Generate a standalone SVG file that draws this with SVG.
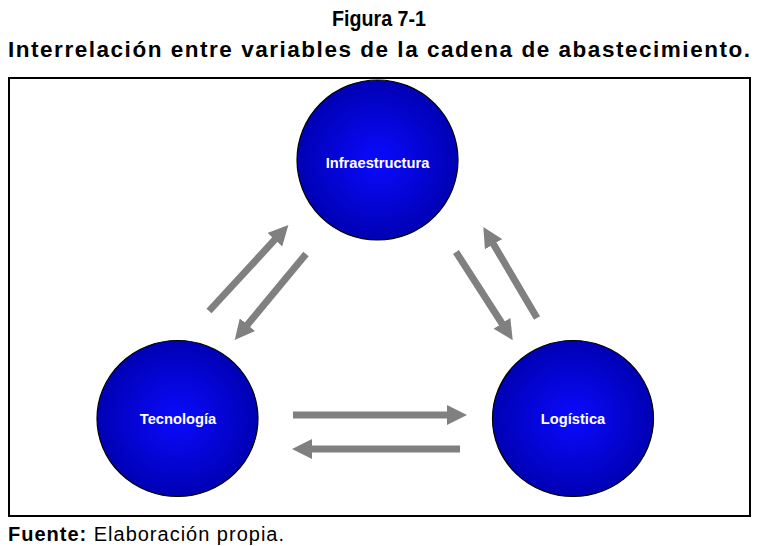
<svg xmlns="http://www.w3.org/2000/svg" width="757" height="546" viewBox="0 0 757 546">
<defs>
<radialGradient id="blue" cx="50%" cy="50%" r="50%">
<stop offset="0" stop-color="#0a0aff"/>
<stop offset="1" stop-color="#0000b4"/>
</radialGradient>
<marker id="ah" markerUnits="userSpaceOnUse" markerWidth="20" markerHeight="20" refX="2" refY="10" orient="auto">
<path d="M0,0 L20,10 L0,20 z" fill="#808080"/>
</marker>
<style>
.t{font-family:"Liberation Sans",Arial,sans-serif;fill:#000}
.node ellipse{fill:url(#blue);stroke:#000;stroke-width:1.2}
.node text{font-family:"Liberation Sans",Arial,sans-serif;font-weight:bold;font-size:14.7px;fill:#fff;text-anchor:middle}
.conn line{stroke:#808080;stroke-width:7;marker-end:url(#ah)}
</style>
</defs>
<rect width="757" height="546" fill="#fff"/>
<text class="t" x="379" y="26" font-size="22.5" font-weight="bold" text-anchor="middle" textLength="94" lengthAdjust="spacingAndGlyphs">Figura 7-1</text>
<text class="t" x="8" y="57" font-size="22.5" font-weight="bold" textLength="742" lengthAdjust="spacing">Interrelación entre variables de la cadena de abastecimiento.</text>
<rect x="9" y="78" width="741" height="438" fill="none" stroke="#000" stroke-width="2"/>
<g id="node-infraestructura" class="node">
<ellipse cx="377.5" cy="160" rx="80.5" ry="80"/>
<text x="377.5" y="168">Infraestructura</text>
</g>
<g id="node-tecnologia" class="node">
<ellipse cx="177.5" cy="418.5" rx="80.5" ry="78"/>
<text x="178" y="424">Tecnología</text>
</g>
<g id="node-logistica" class="node">
<ellipse cx="573" cy="418.5" rx="80.5" ry="78"/>
<text x="573" y="424">Logística</text>
</g>
<g id="connectors" class="conn">
<line x1="209" y1="311" x2="276.2" y2="238.2"/>
<line x1="306" y1="254" x2="246.2" y2="326.2"/>
<line x1="456" y1="252" x2="503" y2="325"/>
<line x1="537" y1="318" x2="492.5" y2="242.5"/>
<line x1="293" y1="415" x2="449" y2="415"/>
<line x1="460" y1="449" x2="310" y2="449"/>
</g>
<text class="t" x="8" y="541" font-size="20" textLength="276" lengthAdjust="spacing"><tspan font-weight="bold">Fuente:</tspan> Elaboración propia.</text>
</svg>
